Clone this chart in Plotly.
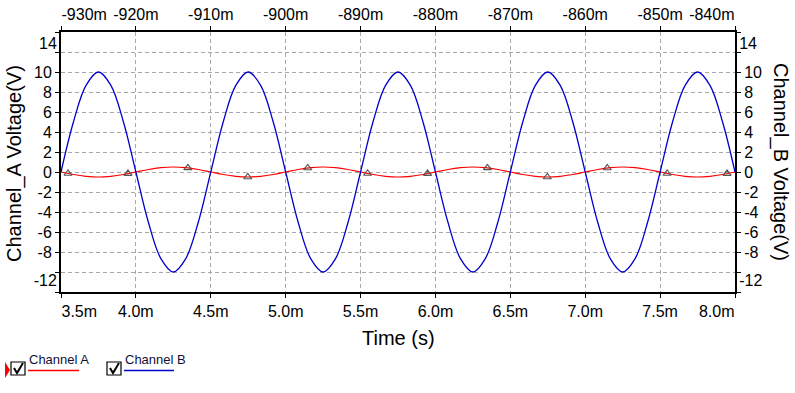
import plotly.graph_objects as go

# ---------------- data ----------------
time_ms = [3.5, 3.583, 3.667, 3.75, 3.833, 3.917, 4.0, 4.083, 4.167, 4.25, 4.333, 4.417,
           4.5, 4.583, 4.667, 4.75, 4.833, 4.917, 5.0, 5.083, 5.167, 5.25, 5.333, 5.417,
           5.5, 5.583, 5.667, 5.75, 5.833, 5.917, 6.0, 6.083, 6.167, 6.25, 6.333, 6.417,
           6.5, 6.583, 6.667, 6.75, 6.833, 6.917, 7.0, 7.083, 7.167, 7.25, 7.333, 7.417,
           7.5, 7.583, 7.667, 7.75, 7.833, 7.917, 8.0]

channel_a = [0, -0.25, -0.43, -0.5, -0.43, -0.25, 0, 0.25, 0.43, 0.5, 0.43, 0.25,
             0, -0.25, -0.43, -0.5, -0.43, -0.25, 0, 0.25, 0.43, 0.5, 0.43, 0.25,
             0, -0.25, -0.43, -0.5, -0.43, -0.25, 0, 0.25, 0.43, 0.5, 0.43, 0.25,
             0, -0.25, -0.43, -0.5, -0.43, -0.25, 0, 0.25, 0.43, 0.5, 0.43, 0.25,
             0, -0.25, -0.43, -0.5, -0.43, -0.25, 0]

channel_b = [0, 5, 8.66, 10, 8.66, 5, 0, -5, -8.66, -10, -8.66, -5,
             0, 5, 8.66, 10, 8.66, 5, 0, -5, -8.66, -10, -8.66, -5,
             0, 5, 8.66, 10, 8.66, 5, 0, -5, -8.66, -10, -8.66, -5,
             0, 5, 8.66, 10, 8.66, 5, 0, -5, -8.66, -10, -8.66, -5,
             0, 5, 8.66, 10, 8.66, 5, 0]

marker_time_ms = [3.547, 3.947, 4.347, 4.747, 5.147, 5.547, 5.947, 6.347, 6.747, 7.147, 7.547, 7.947]
marker_a = [-0.15, -0.16, 0.41, -0.5, 0.4, -0.15, -0.16, 0.41, -0.5, 0.4, -0.15, -0.16]

bottom_tick_vals = [3.5, 4.0, 4.5, 5.0, 5.5, 6.0, 6.5, 7.0, 7.5, 8.0]
bottom_tick_text = ["", "4.0m", "4.5m", "5.0m", "5.5m", "6.0m", "6.5m", "7.0m", "7.5m", ""]
bottom_first, bottom_last = "3.5m", "8.0m"

top_tick_vals = [-930, -920, -910, -900, -890, -880, -870, -860, -850, -840]
top_tick_text = ["", "-920m", "-910m", "-900m", "-890m", "-880m", "-870m", "-860m", "-850m", ""]
top_first, top_last = "-930m", "-840m"

y_tick_vals = [14, 12, 10, 8, 6, 4, 2, 0, -2, -4, -6, -8, -10, -12]
y_tick_text = ["", "", "10", "8", "6", "4", "2", "0", "-2", "-4", "-6", "-8", "", ""]
y_top_label, y_bottom_label = "14", "-12"

# ---------------- geometry helpers ----------------
W, H = 795, 393
L, R, T, B = 61, 60, 32, 101
PW, PH = W - L - R, H - T - B


def px(X):
    return (X - L) / PW


def py(Y):
    return (H - B - Y) / PH


FONT = "Liberation Sans, Arial, sans-serif"
TICKFONT = dict(family=FONT, size=16, color="black")

fig = go.Figure()

fig.add_trace(go.Scatter(x=time_ms, y=channel_a, mode="lines", line=dict(color="#ff0000", width=1.2, shape="spline"),
                         name="Channel A", showlegend=False, hoverinfo="skip"))
fig.add_trace(go.Scatter(x=marker_time_ms, y=marker_a, mode="markers",
                         marker=dict(symbol="triangle-up-open", size=7, color="#555555", line=dict(width=1.2)),
                         showlegend=False, hoverinfo="skip"))
fig.add_trace(go.Scatter(x=time_ms, y=channel_b, mode="lines", line=dict(color="#0000cc", width=1.3, shape="spline"),
                         name="Channel B", yaxis="y2", showlegend=False, hoverinfo="skip"))

# empty carrier traces so that the extra (label-only) axes are drawn
for xa, ya in [("x2", "y"), ("x3", "y"), ("x4", "y"), ("x5", "y"), ("x6", "y"),
               ("x", "y3"), ("x", "y4"), ("x", "y5"), ("x", "y6")]:
    fig.add_trace(go.Scatter(x=[], y=[], xaxis=xa, yaxis=ya, mode="lines",
                             showlegend=False, hoverinfo="skip"))

grid = dict(showgrid=True, gridcolor="#a8a8a8", gridwidth=1, griddash="4px,3px")
axline = dict(showline=True, linecolor="black", linewidth=2, ticks="outside", ticklen=4,
              tickcolor="black", tickwidth=1, zeroline=False, tickfont=TICKFONT)
overlay = dict(showgrid=False, showline=False, zeroline=False, ticks="outside", ticklen=4,
               tickcolor="black", tickwidth=1, tickfont=TICKFONT, fixedrange=True)

fig.update_layout(
    width=W, height=H, margin=dict(l=L, r=R, t=T, b=B, autoexpand=False),
    paper_bgcolor="white", plot_bgcolor="white", showlegend=False,
    xaxis=dict(range=[3.5, 8.0], tickmode="array", tickvals=bottom_tick_vals, ticktext=bottom_tick_text,
               side="bottom", anchor="y", **grid, **axline),
    xaxis2=dict(range=[-930, -840], tickmode="array", tickvals=top_tick_vals, ticktext=top_tick_text,
                side="top", overlaying="x", anchor="y", showgrid=False, showline=True, linecolor="black",
                linewidth=2, ticks="outside", ticklen=4, tickcolor="black", zeroline=False, tickfont=TICKFONT),
    xaxis3=dict(range=[3.5, 8.0], tickmode="array", tickvals=[3.5], ticktext=[bottom_first], ticklabelstandoff=5,
                side="bottom", overlaying="x", anchor="y", ticklabelposition="outside right", **overlay),
    xaxis4=dict(range=[3.5, 8.0], tickmode="array", tickvals=[8.0], ticktext=[bottom_last], ticklabelstandoff=5,
                side="bottom", overlaying="x", anchor="y", ticklabelposition="outside left", **overlay),
    xaxis5=dict(range=[-930, -840], tickmode="array", tickvals=[-930], ticktext=[top_first], ticklabelstandoff=5,
                side="top", overlaying="x", anchor="y", ticklabelposition="outside right", **overlay),
    xaxis6=dict(range=[-930, -840], tickmode="array", tickvals=[-840], ticktext=[top_last], ticklabelstandoff=5,
                side="top", overlaying="x", anchor="y", ticklabelposition="outside left", **overlay),
    yaxis=dict(range=[-12, 14], tickmode="array", tickvals=y_tick_vals, ticktext=y_tick_text,
               side="left", anchor="x", **grid, **axline),
    yaxis2=dict(range=[-12, 14], tickmode="array", tickvals=y_tick_vals, ticktext=y_tick_text,
                side="right", overlaying="y", anchor="x", showgrid=False, showline=True, linecolor="black",
                linewidth=2, ticks="outside", ticklen=4, tickcolor="black", zeroline=False, tickfont=TICKFONT),
    yaxis3=dict(range=[-12, 14], tickmode="array", tickvals=[14], ticktext=[y_top_label],
                side="left", overlaying="y", anchor="x", ticklabelposition="outside bottom", **overlay),
    yaxis4=dict(range=[-12, 14], tickmode="array", tickvals=[-12], ticktext=[y_bottom_label],
                side="left", overlaying="y", anchor="x", ticklabelposition="outside top", **overlay),
    yaxis5=dict(range=[-12, 14], tickmode="array", tickvals=[14], ticktext=[y_top_label],
                side="right", overlaying="y", anchor="x", ticklabelposition="outside bottom", **overlay),
    yaxis6=dict(range=[-12, 14], tickmode="array", tickvals=[-12], ticktext=[y_bottom_label],
                side="right", overlaying="y", anchor="x", ticklabelposition="outside top", **overlay),
)

# axis titles
fig.add_annotation(text="Time (s)", x=px(398), y=py(338), xref="paper", yref="paper",
                   xanchor="center", yanchor="middle",
                   showarrow=False, font=dict(family=FONT, size=20, color="black"))
fig.add_annotation(text="Channel_A Voltage(V)", x=px(14), y=py(164), xref="paper", yref="paper",
                   xanchor="center", yanchor="middle",
                   showarrow=False, textangle=-90, font=dict(family=FONT, size=20, color="black"))
fig.add_annotation(text="Channel_B Voltage(V)", x=px(781), y=py(162), xref="paper", yref="paper",
                   xanchor="center", yanchor="middle",
                   showarrow=False, textangle=90, font=dict(family=FONT, size=20, color="black"))

# custom legend (checkbox style)
LEG_FONT = dict(family=FONT, size=13, color="#10103a")
legend_items = [("Channel A", "#ff0000", 11, 28, 79), ("Channel B", "#0000cc", 107, 124, 174)]
for label, col, bx, tx, ux in legend_items:
    fig.add_shape(type="rect", xref="paper", yref="paper", x0=px(bx), x1=px(bx + 14), y0=py(375), y1=py(362),
                  line=dict(color="black", width=1.2), fillcolor="white")
    fig.add_shape(type="path", xref="paper", yref="paper",
                  path=f"M {px(bx + 3)},{py(368)} L {px(bx + 6)},{py(373)} L {px(bx + 12)},{py(363)}",
                  line=dict(color="black", width=2))
    fig.add_shape(type="line", xref="paper", yref="paper", x0=px(tx), x1=px(ux), y0=py(370.5), y1=py(370.5),
                  line=dict(color=col, width=1.5))
    fig.add_annotation(text=label, x=px(tx - 1), y=py(359), xref="paper", yref="paper", xanchor="left",
                       yanchor="middle", showarrow=False, font=LEG_FONT)

fig.add_shape(type="path", xref="paper", yref="paper",
              path=f"M {px(5)},{py(362)} L {px(10)},{py(370)} L {px(5)},{py(378)} Z",
              fillcolor="#ff0000", line=dict(color="#ff0000", width=0))

fig.write_html("out.html", config={"displayModeBar": False},
               post_script="document.body.style.margin='0px';document.body.style.overflow='hidden';")
